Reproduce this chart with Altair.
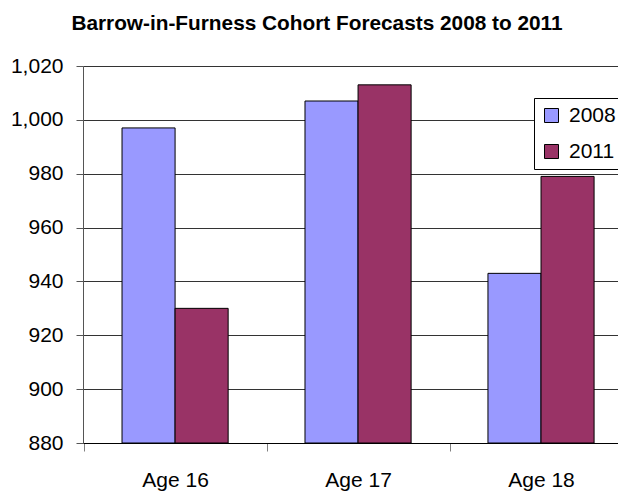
import altair as alt
import pandas as pd

categories = ["Age 16", "Age 17", "Age 18"]
series = ["2008", "2011"]
values_2008 = [997, 1007, 943]
values_2011 = [930, 1013, 979]
y_ticks = [880, 900, 920, 940, 960, 980, 1000, 1020]
colors = ["#9999FF", "#993366"]
title_text = "Barrow-in-Furness Cohort Forecasts 2008 to 2011"

rows = []
for c, a, b in zip(categories, values_2008, values_2011):
    rows.append({"cat": c, "series": series[0], "value": a})
    rows.append({"cat": c, "series": series[1], "value": b})
df = pd.DataFrame(rows)

FONT = "Liberation Sans"

bars = alt.Chart(df).mark_bar(stroke="black", strokeWidth=1).encode(
    x=alt.X("cat:N", sort=categories, title=None,
            scale=alt.Scale(paddingInner=0.42, paddingOuter=0.172, align=0.62),
            axis=alt.Axis(labelAngle=0, labelFontSize=21, labelFont=FONT, labelColor="black",
                          domainColor="black", domainWidth=1, ticks=True, tickSize=8,
                          tickColor="#808080", tickOffset=-91.5, labelOffset=91.5,
                          labelPadding=18, grid=False)),
    xOffset=alt.XOffset("series:N", sort=series, scale=alt.Scale(paddingInner=0, paddingOuter=0)),
    y=alt.Y("value:Q", title=None,
            scale=alt.Scale(domain=[y_ticks[0], y_ticks[-1]], nice=False, zero=False),
            axis=alt.Axis(values=y_ticks, format=",d", labelFontSize=21, labelFont=FONT,
                          labelColor="black", domainColor="#555555", tickColor="#555555",
                          tickSize=7, labelPadding=13, grid=True, gridColor="#333333",
                          gridWidth=1)),
    y2=alt.Y2(datum=y_ticks[0]),
    color=alt.Color("series:N", sort=series, scale=alt.Scale(domain=series, range=colors),
                    legend=alt.Legend(title=None, orient="none", legendX=451, legendY=32,
                                      strokeColor="black", fillColor="white", padding=7,
                                      rowPadding=14, symbolType="square", symbolSize=196,
                                      symbolStrokeColor="black", symbolStrokeWidth=1,
                                      symbolOffset=0, labelOffset=7, labelFontSize=21,
                                      labelFont=FONT, labelColor="black")),
)

chart = bars.properties(
    width=535,
    height=377,
    title=alt.Title(title_text, fontSize=20.8, font=FONT, fontWeight="bold", color="black",
                    anchor="middle", frame="bounds", offset=20),
    autosize=alt.AutoSizeParams(type="none"),
    padding={"left": 75, "top": 58, "right": 0, "bottom": 48},
).configure_view(stroke=None).configure(background="white")

chart.save("out.html", embed_options={"renderer": "svg", "actions": False})
